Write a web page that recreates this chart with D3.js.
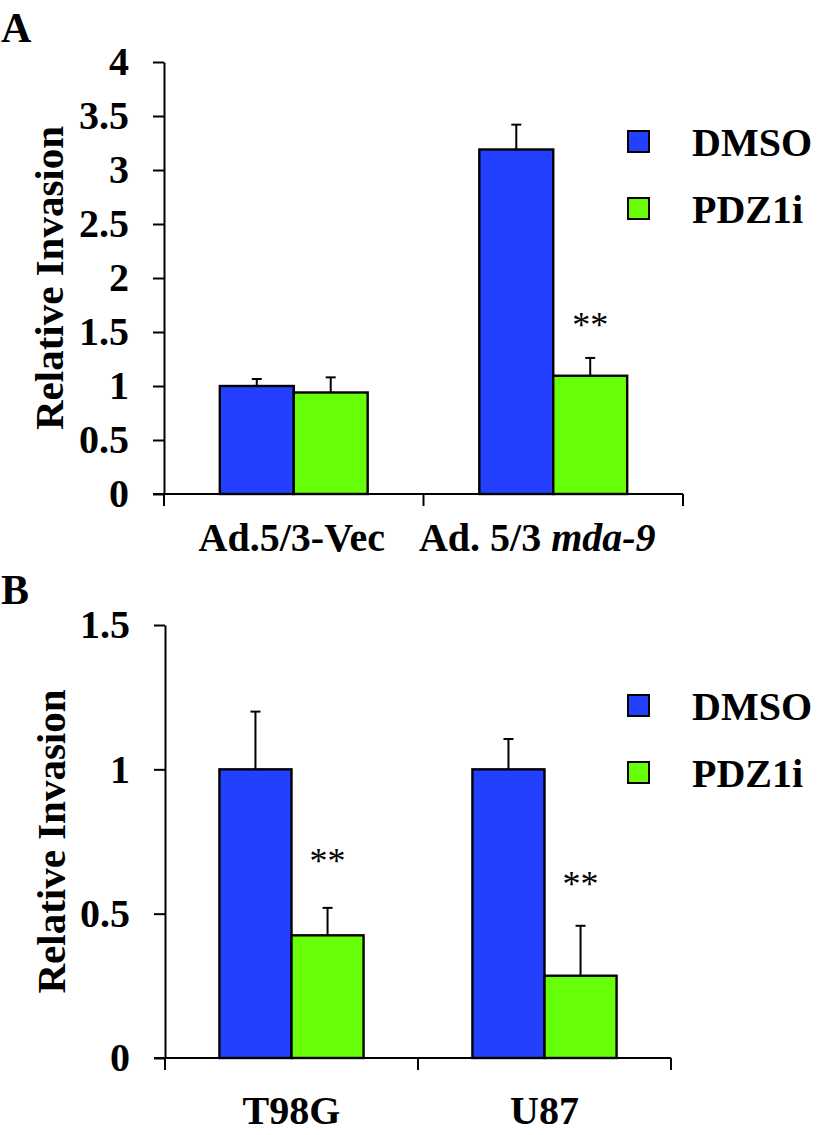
<!DOCTYPE html>
<html>
<head>
<meta charset="utf-8">
<script src="https://cdn.jsdelivr.net/npm/d3@7"></script>
<style>
  html, body { margin: 0; padding: 0; background: #fff; }
  svg { display: block; }
  text { font-family: "Liberation Serif", "Times New Roman", serif; fill: #000; }
</style>
</head>
<body>
<svg id="chart" width="820" height="1135"></svg>
<script>
// ---------- data ----------
const seriesNames = ["DMSO", "PDZ1i"];
const seriesColors = ["#2440FF", "#66FF08"];

// Panel A
const categoriesA = ["Ad.5/3-Vec", "Ad. 5/3 mda-9"];
const dmsoA = [1.0, 3.19];
const pdzA = [0.94, 1.095];
const dmsoErrA = [0.065, 0.23];
const pdzErrA = [0.14, 0.165];
const sigA = ["", "**"];
const sigLevelA = [null, 1.61];
const yTicksA = [0, 0.5, 1, 1.5, 2, 2.5, 3, 3.5, 4];

// Panel B
const categoriesB = ["T98G", "U87"];
const dmsoB = [1.0, 1.0];
const pdzB = [0.425, 0.285];
const dmsoErrB = [0.2, 0.105];
const pdzErrB = [0.095, 0.173];
const sigB = ["**", "**"];
const sigLevelB = [0.70, 0.62];
const yTicksB = [0, 0.5, 1, 1.5];

const yTitle = "Relative Invasion";
const italicPart = "mda-9";

// ---------- drawing ----------
const svg = d3.select("#chart");

function panel(cfg) {
  const g = svg.append("g");
  const y = d3.scaleLinear().domain(cfg.yDomain).range([cfg.y0, cfg.y1]);
  const x = d3.scaleBand().domain(cfg.categories).range([cfg.x0, cfg.x1]).paddingInner(0).paddingOuter(0);
  const xs = d3.scaleBand().domain(seriesNames).range([0, x.bandwidth()]).paddingInner(0).paddingOuter(cfg.outerPad);

  // panel letter
  svg.append("text").attr("x", 1).attr("y", cfg.letterY)
    .attr("font-size", 42).attr("font-weight", "bold").text(cfg.letter);

  // y axis
  const yAxis = d3.axisLeft(y).tickValues(cfg.yTicks).tickSize(11).tickSizeOuter(0)
    .tickPadding(24).tickFormat(d => String(d));
  const ya = g.append("g").attr("transform", `translate(${cfg.x0},0)`).call(yAxis);
  ya.selectAll("path, line").attr("stroke", "#000").attr("stroke-width", 2);
  ya.selectAll("text").attr("font-size", 40).attr("font-weight", "bold")
    .attr("font-family", '"Liberation Serif", "Times New Roman", serif').attr("fill", "#000");

  // y title
  g.append("text")
    .attr("transform", `translate(${cfg.titleX},${(cfg.y0 + cfg.y1) / 2}) rotate(-90)`)
    .attr("text-anchor", "middle").attr("font-size", 41).attr("font-weight", "bold")
    .text(yTitle);

  const rows = cfg.categories.map((c, i) => ({
    cat: c,
    vals: [
      { s: seriesNames[0], v: cfg.dmso[i], e: cfg.dmsoErr[i], c: seriesColors[0] },
      { s: seriesNames[1], v: cfg.pdz[i], e: cfg.pdzErr[i], c: seriesColors[1] }
    ],
    sig: cfg.sig[i], sigLevel: cfg.sigLevel[i]
  }));

  const grp = g.selectAll(".grp").data(rows).join("g")
    .attr("transform", d => `translate(${x(d.cat)},0)`);

  // error bars (upper only)
  grp.selectAll(".err").data(d => d.vals).join("g").each(function(d) {
    const cx = xs(d.s) + xs.bandwidth() / 2;
    const sel = d3.select(this);
    sel.append("line").attr("x1", cx).attr("x2", cx)
      .attr("y1", y(d.v)).attr("y2", y(d.v + d.e)).attr("stroke", "#000").attr("stroke-width", 2);
    sel.append("line").attr("x1", cx - 5).attr("x2", cx + 5)
      .attr("y1", y(d.v + d.e)).attr("y2", y(d.v + d.e)).attr("stroke", "#000").attr("stroke-width", 2);
  });

  // bars
  grp.selectAll("rect").data(d => d.vals).join("rect")
    .attr("x", d => xs(d.s)).attr("width", xs.bandwidth())
    .attr("y", d => y(d.v)).attr("height", d => y(0) - y(d.v))
    .attr("fill", d => d.c).attr("stroke", "#000").attr("stroke-width", 2.4);

  // significance
  grp.filter(d => d.sig).append("text")
    .attr("x", xs(seriesNames[1]) + xs.bandwidth() / 2)
    .attr("y", d => y(d.sigLevel) + 17)
    .attr("text-anchor", "middle").attr("font-size", 36).attr("fill", "#222")
    .text(d => d.sig);

  // x axis line + boundary ticks
  const bounds = cfg.categories.map(c => x(c)).concat([x.range()[1]]);
  g.append("line").attr("x1", cfg.x0 - 11).attr("x2", cfg.x1)
    .attr("y1", y(0)).attr("y2", y(0)).attr("stroke", "#000").attr("stroke-width", 2);
  g.selectAll(".xt").data(bounds).join("line")
    .attr("x1", d => d).attr("x2", d => d)
    .attr("y1", y(0)).attr("y2", y(0) + 12).attr("stroke", "#000").attr("stroke-width", 2);

  // x labels
  g.selectAll(".xl").data(rows).join("text")
    .attr("x", (d, i) => x(d.cat) + x.bandwidth() / 2 + cfg.labelShift[i])
    .attr("y", y(0) + cfg.labelDy)
    .attr("text-anchor", "middle").attr("font-size", 40).attr("font-weight", "bold")
    .each(function(d) {
      const t = d3.select(this);
      const idx = d.cat.indexOf(italicPart);
      if (idx >= 0) {
        t.append("tspan").text(d.cat.slice(0, idx));
        t.append("tspan").attr("font-style", "italic").text(italicPart);
      } else {
        t.text(d.cat);
      }
    });

  // legend
  const lg = svg.append("g");
  seriesNames.forEach((s, i) => {
    const ly = cfg.legendY + i * 67;
    lg.append("rect").attr("x", 628).attr("y", ly).attr("width", 21).attr("height", 21)
      .attr("fill", seriesColors[i]).attr("stroke", "#000").attr("stroke-width", 2);
    lg.append("text").attr("x", 692).attr("y", ly + 25)
      .attr("font-size", 40).attr("font-weight", "bold").text(s);
  });
}

panel({
  letter: "A", letterY: 42,
  categories: categoriesA, dmso: dmsoA, pdz: pdzA, dmsoErr: dmsoErrA, pdzErr: pdzErrA,
  sig: sigA, sigLevel: sigLevelA, yTicks: yTicksA, yDomain: [0, 4],
  y0: 494, y1: 62, x0: 164, x1: 683, outerPad: 0.755,
  titleX: 63, labelDy: 57, labelShift: [-2, -16], legendY: 131
});

panel({
  letter: "B", letterY: 604,
  categories: categoriesB, dmso: dmsoB, pdz: pdzB, dmsoErr: dmsoErrB, pdzErr: pdzErrB,
  sig: sigB, sigLevel: sigLevelB, yTicks: yTicksB, yDomain: [0, 1.5],
  y0: 1058, y1: 625, x0: 165, x1: 671, outerPad: 0.755,
  titleX: 65, labelDy: 66, labelShift: [0, 0], legendY: 695
});
</script>
</body>
</html>
